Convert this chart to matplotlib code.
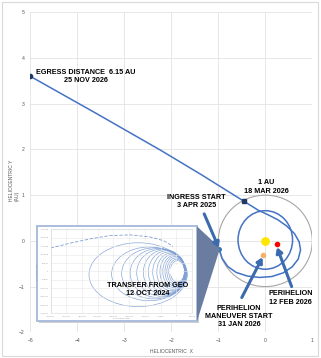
import numpy as np
import matplotlib.pyplot as plt
from matplotlib.patches import Circle, Ellipse, Rectangle, Polygon

plt.rcParams['font.family'] = ['Liberation Sans', 'DejaVu Sans']

# ---- main chart data (AU, heliocentric) ----
path_x = [-0.98, -0.92, -0.80, -0.62, -0.38, -0.12, 0.14, 0.38, 0.57, 0.70, 0.75, 0.72,
          0.62, 0.46, 0.27, 0.06, -0.15, -0.46, -0.85, -1.38, -2.24, -3.60, -5.00]
path_y = [-0.18, -0.38, -0.56, -0.69, -0.77, -0.80, -0.78, -0.70, -0.57, -0.40, -0.20, -0.02,
          0.16, 0.32, 0.46, 0.57, 0.67, 0.87, 1.12, 1.46, 1.99, 2.79, 3.60]

earth_orbit_r = 1.0
inner_orbit_center = (0.0, 0.02)
inner_orbit_w = 1.16
inner_orbit_h = 1.28

egress_pt = (-5.0, 3.6)
one_au_pt = (-0.46, 0.87)
ingress_pt = (-0.98, -0.18)
perihelion_pt = (0.24, -0.07)
maneuver_pt = (-0.04, -0.31)

# ---- inset data (km, geocentric) ----
loop_left = [-278e3, -206e3, -174e3, -147e3, -126e3, -105e3, -89e3, -75e3, -62e3,
             -52e3, -43e3, -36e3, -30e3, -24e3, -19e3]
loop_right = [35e3, 34e3, 33e3, 32e3, 31e3, 30e3, 30e3, 29e3, 29e3,
              28e3, 28e3, 27e3, 27e3, 26e3, 26e3]
loop_half_h = [190e3, 160e3, 152e3, 146e3, 140e3, 134e3, 128e3, 120e3, 112e3,
               104e3, 96e3, 88e3, 80e3, 72e3, 64e3]
loop_cy = [-20e3, -15e3, -12e3, -10e3, -8e3, -6e3, -5e3, -4e3, -3e3,
           -2e3, -1e3, 0, 0, 0, 0]
escape_x = [-400e3, -338e3, -275e3, -211e3, -147e3, -84e3, -41e3, -10e3]
escape_y = [139e3, 168e3, 193e3, 213e3, 217e3, 205e3, 183e3, 149e3]

fig = plt.figure(figsize=(3.21, 3.58), dpi=100)
fig.patches.append(Rectangle((2 / 321, 2 / 358), 316 / 321, 354 / 358, transform=fig.transFigure,
                             fill=False, ec='#D9D9D9', lw=0.8))

ax = fig.add_axes([30.3 / 321, 25.7 / 358, 282 / 321, 320 / 358])
ax.set_xlim(-5, 1)
ax.set_ylim(-2, 5)
ax.set_xticks(range(-5, 2))
ax.set_yticks(range(-2, 6))
for s in ax.spines.values():
    s.set_visible(False)
ax.grid(color='#E3E3E3', lw=0.6)
ax.set_axisbelow(True)
ax.tick_params(length=0, labelsize=3.6, labelcolor='#595959', pad=4)

# orbits and trajectory
ax.add_patch(Circle((0, 0), earth_orbit_r, fill=False, ec='#A6A6A6', lw=0.8, zorder=2))
ax.add_patch(Ellipse(inner_orbit_center, inner_orbit_w, inner_orbit_h, fill=False,
                     ec='#4472C4', lw=1.1, zorder=2))
ax.plot(path_x, path_y, color='#4472C4', lw=1.1, zorder=3)

ax.plot(*egress_pt, 'o', color='#203864', ms=3, zorder=4)
ax.plot(*one_au_pt, 's', color='#203864', ms=2.5, zorder=4)
ax.plot(*ingress_pt, 'o', color='#2E75B6', ms=2.5, zorder=4)
ax.plot(0, 0, 'o', color='#FFE600', ms=5.3, zorder=4)
ax.plot(*perihelion_pt, 'o', color='#FF0000', ms=3, zorder=4)
ax.plot(*maneuver_pt, 'o', color='#F4B16B', ms=3, zorder=4)

# inset frame + callout
ax.add_patch(Rectangle((-4.82, -1.80), 3.404, 2.077, fc='#D0D0D0', ec='none', zorder=3.8))
ax.add_patch(Rectangle((-4.857, -1.76), 3.404, 2.077, fc='white', ec='#A9BEDC', lw=1.4, zorder=4))
ax.add_patch(Polygon([(-1.453, 0.317), (-0.975, -0.14), (-0.975, -0.20), (-1.453, -1.76)],
                     closed=True, fc='#6A7CA0', ec='none', zorder=4))

axin = ax.inset_axes([-4.566, -1.586, 3.006, 1.838], transform=ax.transData, zorder=5)
axin.set_xlim(-400e3, 50e3)
axin.set_ylim(-250e3, 250e3)
axin.set_xticks(np.arange(-400e3, 50001, 50e3))
axin.set_yticks(np.arange(-250e3, 250001, 50e3))
axin.xaxis.set_major_formatter(lambda v, p: f'{v:,.0f}')
axin.yaxis.set_major_formatter(lambda v, p: f'{v:,.0f}')
axin.tick_params(length=0, labelsize=1.6, labelcolor='#8C8C8C', pad=1.5)
axin.grid(color='#E6E6E6', lw=0.4)
for s in axin.spines.values():
    s.set_color('#D6D6D6')
    s.set_linewidth(0.4)
axin.set_xlabel('DISTANCE (KM)', fontsize=1.6, color='#8C8C8C', labelpad=1)
axin.set_ylabel('DISTANCE (KM)', fontsize=1.6, color='#8C8C8C', labelpad=1)

for l, r, h, cy in zip(loop_left, loop_right, loop_half_h, loop_cy):
    axin.add_patch(Ellipse(((l + r) / 2, cy), r - l, 2 * h, fill=False, ec='#7F9FD4', lw=0.45))
axin.plot(escape_x, escape_y, ls=(0, (4, 2)), color='#7F9FD4', lw=0.6)
axin.add_patch(Ellipse((0, 0), 42e3, 78e3, fc='white', ec='none', zorder=3))

# arrows
arrow_kw = dict(arrowstyle='-|>,head_length=0.3,head_width=0.18', color='#3B6BAE', lw=2.2,
                shrinkA=0, shrinkB=0)
ax.annotate('', xy=(-0.99, -0.15), xytext=(-1.30, 0.59), arrowprops=arrow_kw, zorder=6)
ax.annotate('', xy=(-0.06, -0.36), xytext=(-0.50, -1.24), arrowprops=arrow_kw, zorder=6)
ax.annotate('', xy=(0.25, -0.14), xytext=(0.56, -1.00), arrowprops=arrow_kw, zorder=6)

# labels
lab = dict(ha='center', va='center', fontsize=5.2, fontweight='bold', linespacing=1.25, zorder=7)
ax.text(-3.82, 3.60, 'EGRESS DISTANCE  6.15 AU\n25 NOV 2026', **lab)
ax.text(0.02, 1.18, '1 AU\n18 MAR 2026', **lab)
ax.text(-1.47, 0.86, 'INGRESS START\n3 APR 2025', **lab)
ax.text(0.54, -1.25, 'PERIHELION\n12 FEB 2026', **lab)
ax.text(-0.56, -1.65, 'PERIHELION\nMANEUVER START\n31 JAN 2026', **lab)
ax.text(-2.50, -1.06, 'TRANSFER FROM GEO\n12 OCT 2024', **lab)

fig.text(14 / 321, 1 - 180 / 358, 'HELIOCENTRIC Y\n(AU)', rotation=90, ha='center', va='center',
         multialignment='left', fontsize=3.6, color='#595959')
fig.text(171.7 / 321, 1 - 351.7 / 358, 'HELIOCENTRIC  X', ha='center', va='center',
         fontsize=3.6, color='#595959')

fig.savefig('out.png', dpi=100)
